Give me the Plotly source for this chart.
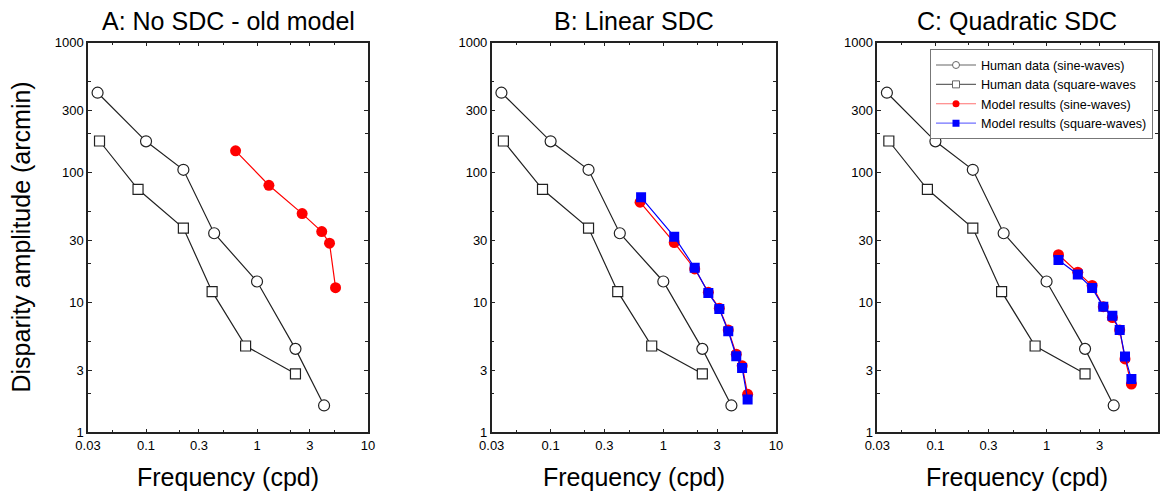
import math
import plotly.graph_objects as go

# ---- data ----
human_sine_x = [0.0366, 0.1, 0.217, 0.411, 1.0, 2.22, 4.02]
human_sine_y = [412, 174, 105, 34.1, 14.5, 4.39, 1.61]
human_sq_x = [0.0381, 0.0847, 0.217, 0.394, 0.789, 2.22]
human_sq_y = [175, 74.3, 37.4, 12.1, 4.62, 2.82]

modelA_sine_x = [0.641, 1.28, 2.55, 3.83, 4.5, 5.1]
modelA_sine_y = [147, 79.8, 48.3, 35.1, 28.6, 13.0]

modelB_sine_x = [0.622, 1.25, 1.90, 2.51, 3.14, 3.77, 4.44, 5.01, 5.6]
modelB_sine_y = [59.1, 28.9, 18.1, 11.97, 9.03, 6.14, 3.99, 3.25, 1.96]
modelB_sq_x = [0.635, 1.25, 1.90, 2.51, 3.14, 3.77, 4.44, 5.0, 5.6]
modelB_sq_y = [64.5, 32.1, 18.5, 11.8, 8.9, 6.0, 3.85, 3.13, 1.79]

modelC_x = [1.28, 1.91, 2.57, 3.24, 3.91, 4.55, 5.08, 5.80]
modelC_sine_y = [23.3, 17.1, 13.5, 9.28, 7.64, 6.14, 3.67, 2.35]
modelC_sq_y = [21.2, 16.4, 12.9, 9.28, 7.91, 6.14, 3.83, 2.57]

panel_titles = ["A: No SDC - old model", "B: Linear SDC", "C: Quadratic SDC"]
legend_names = ["Human data (sine-waves)", "Human data (square-waves",
                "Model results (sine-waves)", "Model results (square-waves)"]
x_tickvals = [0.03, 0.1, 0.3, 1, 3, 10]
x_ticktext = ["0.03", "0.1", "0.3", "1", "3", "10"]
y_tickvals = [1, 3, 10, 30, 100, 300, 1000]
y_ticktext = ["1", "3", "10", "30", "100", "300", "1000"]
x_minor = [0.05, 0.2, 0.5, 2, 5]
y_minor = [2, 5, 20, 50, 200, 500]

W, H = 1163, 492
x_domains = [(88 / W, 368 / W), (491.7 / W, 776 / W), (877.3 / W, 1157.7 / W)]
y_domain = (1 - 432.3 / H, 1 - 42.7 / H)

FONT = "Liberation Sans, Arial, sans-serif"
DARK = "#222222"
fig = go.Figure()


def axes(i):
    return ("x" if i == 0 else f"x{i+1}", "y" if i == 0 else f"y{i+1}")


def add_human(i):
    xa, ya = axes(i)
    fig.add_trace(go.Scatter(
        x=human_sine_x, y=human_sine_y, mode="lines+markers", showlegend=False,
        line=dict(color=DARK, width=1.2),
        marker=dict(symbol="circle", size=11, color="white",
                    line=dict(color=DARK, width=1.2)),
        xaxis=xa, yaxis=ya))
    fig.add_trace(go.Scatter(
        x=human_sq_x, y=human_sq_y, mode="lines+markers", showlegend=False,
        line=dict(color=DARK, width=1.2),
        marker=dict(symbol="square", size=10, color="white",
                    line=dict(color=DARK, width=1.2)),
        xaxis=xa, yaxis=ya))


def add_model(i, xs, ys, kind):
    xa, ya = axes(i)
    if kind == "sine":
        fig.add_trace(go.Scatter(
            x=xs, y=ys, mode="lines+markers", showlegend=False,
            line=dict(color="#ff0000", width=1.2),
            marker=dict(symbol="circle", size=11, color="#ff0000"),
            xaxis=xa, yaxis=ya))
    else:
        fig.add_trace(go.Scatter(
            x=xs, y=ys, mode="lines+markers", showlegend=False,
            line=dict(color="#0000ff", width=1.2),
            marker=dict(symbol="square", size=10, color="#0000ff"),
            xaxis=xa, yaxis=ya))


# Panel A
add_human(0)
add_model(0, modelA_sine_x, modelA_sine_y, "sine")
# Panel B
add_human(1)
add_model(1, modelB_sine_x, modelB_sine_y, "sine")
add_model(1, modelB_sq_x, modelB_sq_y, "square")
# Panel C
add_human(2)
add_model(2, modelC_x, modelC_sine_y, "sine")
add_model(2, modelC_x, modelC_sq_y, "square")

# legend-only entries (small symbols as in the reference legend)
leg_styles = [
    dict(line=dict(color="#666666", width=1.2),
         marker=dict(symbol="circle", size=7, color="white", line=dict(color="#666666", width=1))),
    dict(line=dict(color="#666666", width=1.2),
         marker=dict(symbol="square", size=7, color="white", line=dict(color="#666666", width=1))),
    dict(line=dict(color="#ff7070", width=1.2),
         marker=dict(symbol="circle", size=7, color="#ff0000")),
    dict(line=dict(color="#7070ff", width=1.2),
         marker=dict(symbol="square", size=7, color="#0000ff")),
]
for k, (nm, st) in enumerate(zip(legend_names, leg_styles)):
    fig.add_trace(go.Scatter(x=[None], y=[None], mode="lines+markers", name=nm,
                             showlegend=True, legendrank=k + 1,
                             xaxis="x3", yaxis="y3", **st))

axis_common = dict(
    type="log", showgrid=False, zeroline=False, automargin=False,
    showline=True, linecolor=DARK, linewidth=1.5, mirror="ticks",
    ticks="inside", ticklen=4, tickwidth=1, tickcolor=DARK,
    tickfont=dict(family=FONT, size=13, color="black"),
)

layout = dict(
    template="none",
    width=W, height=H, margin=dict(l=0, r=0, t=0, b=0, autoexpand=False),
    paper_bgcolor="white", plot_bgcolor="white",
    font=dict(family=FONT, color="black"),
    legend=dict(x=930 / W, y=1 - 49.3 / H, xanchor="left", yanchor="top",
                bgcolor="white", bordercolor="#777777", borderwidth=1,
                font=dict(family=FONT, size=12.6, color="black"),
                tracegroupgap=0, itemwidth=40, traceorder="normal"),
)
for i in range(3):
    xk = "xaxis" if i == 0 else f"xaxis{i+1}"
    yk = "yaxis" if i == 0 else f"yaxis{i+1}"
    layout[xk] = dict(axis_common, domain=list(x_domains[i]),
                      range=[math.log10(0.03), 1],
                      tickvals=x_tickvals, ticktext=x_ticktext,
                      minor=dict(tickvals=x_minor, ticks="inside", ticklen=3,
                                 tickcolor=DARK, showgrid=False),
                      anchor="y" if i == 0 else f"y{i+1}")
    layout[yk] = dict(axis_common, domain=list(y_domain),
                      range=[0, 3],
                      tickvals=y_tickvals, ticktext=y_ticktext,
                      minor=dict(tickvals=y_minor, ticks="inside", ticklen=3,
                                 tickcolor=DARK, showgrid=False),
                      anchor="x" if i == 0 else f"x{i+1}")
fig.update_layout(**layout)

annotations = []
for i, t in enumerate(panel_titles):
    cx = (x_domains[i][0] + x_domains[i][1]) / 2
    annotations.append(dict(text=t, x=cx, y=1 - 21 / H, xref="paper", yref="paper",
                            xanchor="center", yanchor="middle", showarrow=False,
                            font=dict(family=FONT, size=25, color="black")))
    annotations.append(dict(text="Frequency (cpd)", x=cx, y=1 - 477 / H,
                            xref="paper", yref="paper",
                            xanchor="center", yanchor="middle", showarrow=False,
                            font=dict(family=FONT, size=25, color="black")))
annotations.append(dict(text="Disparity amplitude (arcmin)", x=21 / W,
                        y=(y_domain[0] + y_domain[1]) / 2, xref="paper", yref="paper",
                        xanchor="center", yanchor="middle", textangle=-90,
                        showarrow=False,
                        font=dict(family=FONT, size=25, color="black")))
fig.update_layout(annotations=annotations)

fig.write_html("out.html")
